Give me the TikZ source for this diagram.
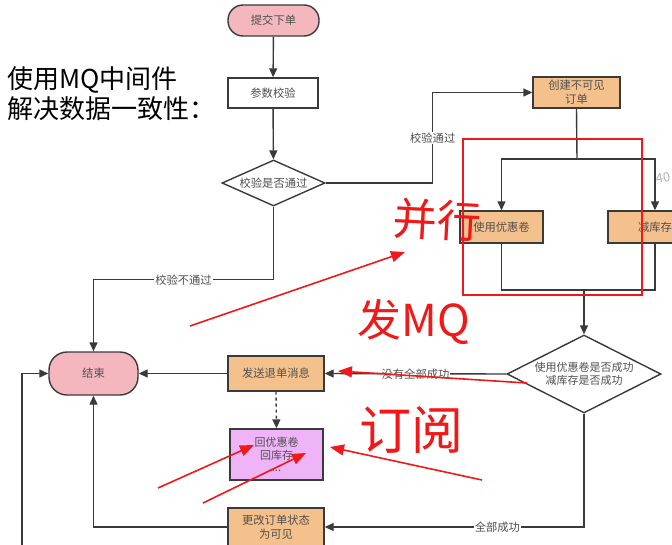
\documentclass[tikz,border=0pt]{standalone}
\usepackage{fontspec}
\setmainfont{Noto Sans CJK SC}
\newfontfamily\cjk{Noto Sans CJK SC}
\usetikzlibrary{arrows.meta,shapes.geometric}
\definecolor{ln}{HTML}{3A3A3A}
\definecolor{txt}{HTML}{505050}
\definecolor{pinkf}{HTML}{F5B7BE}
\definecolor{orangef}{HTML}{F4C18C}
\definecolor{violetf}{HTML}{EFB3F8}
\definecolor{hand}{HTML}{F01818}
\tikzset{
  base/.style={draw=ln,line width=1.4pt,text=txt,font=\cjk\fontsize{11.3}{14}\selectfont,align=center,inner sep=1pt},
  term/.style={base,fill=pinkf,rounded corners=15pt},
  plainbox/.style={base,fill=white,minimum width=90pt,minimum height=30pt},
  obox/.style={base,fill=orangef},
  vbox/.style={base,fill=violetf},
  dec/.style={base,fill=white,diamond,inner sep=0pt},
  arr/.style={draw=ln,line width=1.4pt,-{Triangle[length=9pt,width=8pt]}},
  con/.style={draw=ln,line width=1.4pt},
  lbl/.style={fill=white,text=txt,font=\cjk\fontsize{11.3}{13}\selectfont,inner sep=1pt},
  redline/.style={draw=hand,line width=1.3pt},
  redarr/.style={draw=hand,line width=1.6pt,-{Triangle[length=14pt,width=11pt]}},
  handtxt/.style={text=hand,font=\cjk\fontsize{44}{46}\selectfont,inner sep=0pt}
}
\begin{document}
\begin{tikzpicture}[x=1pt,y=-1pt]
\useasboundingbox (0,0) rectangle (672,544);
% title
\node[anchor=north west,align=left,inner sep=0pt,font=\cjk\fontsize{26}{30}\selectfont,text=black] (title) at (7,66) {使用MQ中间件\\解决数据一致性：};
% nodes
\node[term,minimum width=91pt,minimum height=31pt] (submit) at (273.5,20.5) {提交下单};
\node[plainbox,minimum width=90pt,minimum height=30pt] (check) at (273,93) {参数校验};
\node[dec,minimum width=103pt,minimum height=46pt,aspect=2.2] (dec1) at (273.5,183) {校验是否通过};
\node[obox,minimum width=87pt,minimum height=31pt] (create) at (576.5,92.5) {创建不可见\\订单};
\node[obox,minimum width=83pt,minimum height=32pt] (coupon) at (501.5,227) {使用优惠卷};
\node[obox,minimum width=94pt,minimum height=32pt] (stock) at (655,227) {减库存};
\node[dec,minimum width=154pt,minimum height=78pt,aspect=2,font=\cjk\fontsize{11}{13.5}\selectfont] (dec2) at (584,374) {使用优惠卷是否成功\\减库存是否成功};
\node[obox,minimum width=96pt,minimum height=35pt] (send) at (276,373.5) {发送退单消息};
\node[term,minimum width=89pt,minimum height=43pt,rounded corners=18pt] (end) at (93.5,373.5) {结束};
\node[vbox,minimum width=93pt,minimum height=51pt,font=\cjk\fontsize{11}{12.5}\selectfont] (rollback) at (276.5,454.5) {回优惠卷\\回库存\\...};
\node[obox,minimum width=96pt,minimum height=38pt] (update) at (276,527) {更改订单状态\\为可见};
\coordinate (fork) at (577,159);
\coordinate (join) at (584,290);
\coordinate (lb) at (22,560);
% connectors
\draw[arr] (submit) -- (check);
\draw[arr] (check) -- (dec1);
\draw[arr] (dec1.east) -- ++(107,0) |- node[lbl,pos=0.25]{校验通过} (create.west);
\draw[con] (create.south) -- (fork);
\draw[arr] (fork) -| (coupon.north);
\draw[arr] (fork) -| (stock.north);
\draw[con] (coupon.south) |- (join);
\draw[con] (stock.south) |- (join);
\draw[arr] (join) -- (dec2.north);
\draw[arr] (dec2.west) -- node[lbl]{没有全部成功} (send.east);
\draw[arr] (send.west) -- (end.east);
\draw[arr] (dec1.south) -- ++(0,73) -| node[lbl,pos=0.25]{校验不通过} (end.north);
\draw[arr,dashed] (send.south) -- (rollback.north);
\draw[arr] (dec2.south) |- node[lbl,pos=0.667]{全部成功} (update.east);
\draw[arr] (update.west) -| (end.south);
\draw[arr] (lb) |- (end.west);
% red annotations
\draw[redline] (463,139) rectangle (642,295);
\node[handtxt,rotate=-3] (h1) at (437,220) {并行};
\node[handtxt] (h2) at (414,322) {发MQ};
\node[handtxt,font=\cjk\fontsize{52}{54}\selectfont] (h3) at (411,430) {订阅};
\draw[redarr] (190,326) -- (405,252);
\draw[redarr] (527,383) -- (338,371);
\draw[redarr] (482,480) -- (330,447);
\draw[redarr] (158,488) -- (254,445);
\draw[redarr] (203,503) -- (306,453);
\node[text=gray!60,font=\fontsize{13}{13}\selectfont\itshape,rotate=10] (h4) at (663,178) {40};
\end{tikzpicture}
\end{document}
